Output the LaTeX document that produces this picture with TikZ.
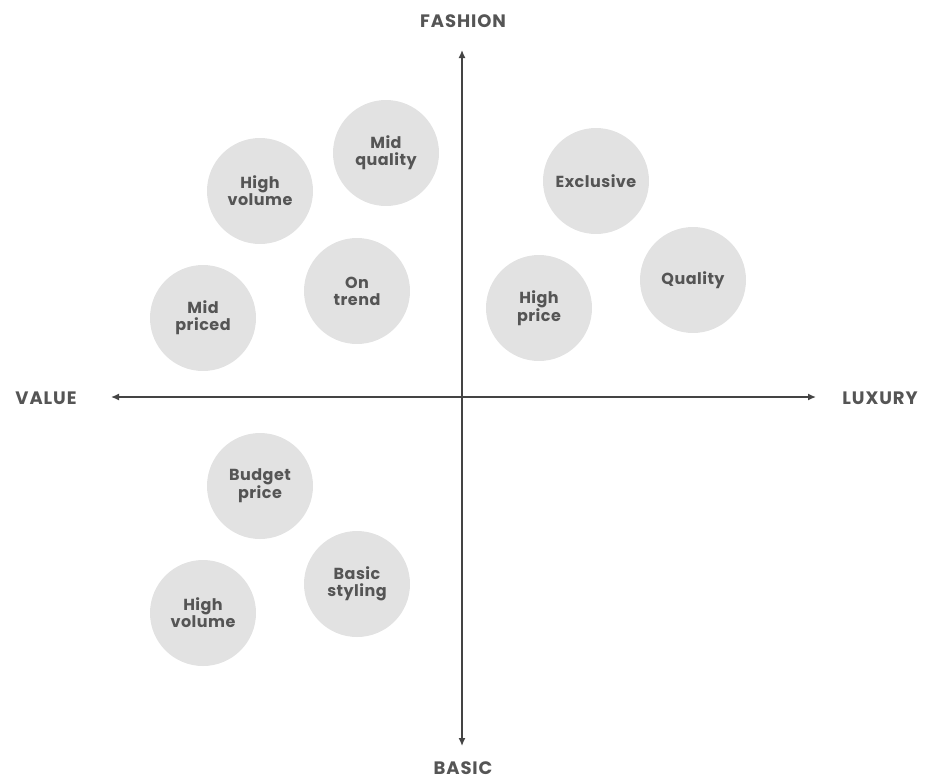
\documentclass[tikz,border=0pt]{standalone}
\usepackage{fontspec}
\setmainfont{Poppins}
\usetikzlibrary{arrows.meta}
\definecolor{bubble}{HTML}{E2E2E2}
\definecolor{ink}{HTML}{555555}
\definecolor{axisink}{HTML}{444444}
\begin{document}
\begin{tikzpicture}[x=1pt,y=-1pt,
  bubble/.style={circle,fill=bubble,minimum size=106pt,inner sep=0pt,
    align=center,text=ink,
    font=\bfseries\fontsize{16}{17}\selectfont\addfontfeature{LetterSpace=3}},
  axislabel/.style={anchor=base,text=ink,
    font=\bfseries\fontsize{18}{20}\selectfont\addfontfeature{LetterSpace=5}},
  axisline/.style={draw=axisink,line width=1.4pt,
    -{Latex[length=8pt,width=7pt]}}]
\useasboundingbox (0,0) rectangle (925,780);
% axis ends
\coordinate (centre) at (462,397);
\coordinate (top) at (462,50);
\coordinate (bottom) at (462,746);
\coordinate (left) at (111,397);
\coordinate (right) at (816,397);
\draw[axisline] (centre) -- (top);
\draw[axisline] (centre) -- (bottom);
\draw[axisline] (centre) -- (left);
\draw[axisline] (centre) -- (right);
% axis labels (placed on their baselines)
\node[axislabel] (fashion) at (463,27) {FASHION};
\node[axislabel] (basic) at (463,774) {BASIC};
\node[axislabel] (value) at (46,404) {VALUE};
\node[axislabel] (luxury) at (880,404) {LUXURY};
% bubbles
\node[bubble] (highvolA) at (260,191) {High\\volume};
\node[bubble] (midquality) at (386,153) {Mid\\quality};
\node[bubble] (midpriced) at (203,318) {Mid\\priced};
\node[bubble] (ontrend) at (357,291) {On\\trend};
\node[bubble] (exclusive) at (596,181) {Exclusive};
\node[bubble] (quality) at (693,280) {Quality};
\node[bubble] (highprice) at (539,308) {High\\price};
\node[bubble] (budget) at (260,486) {Budget\\price};
\node[bubble] (basicstyle) at (357,584) {Basic\\styling};
\node[bubble] (highvolB) at (203,613) {High\\volume};
\end{tikzpicture}
\end{document}
